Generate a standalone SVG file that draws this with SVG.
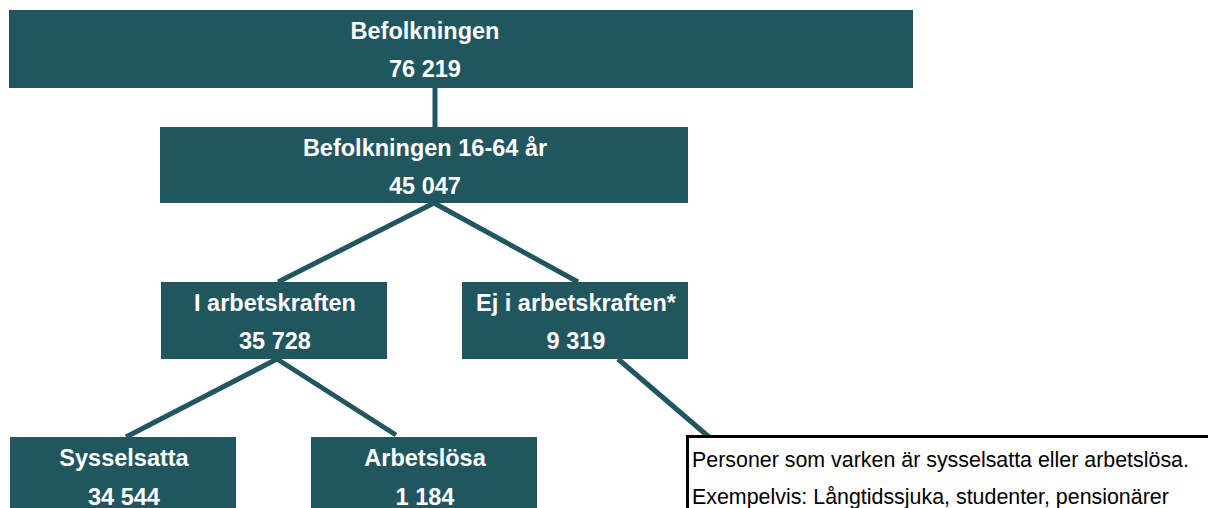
<svg xmlns="http://www.w3.org/2000/svg" width="1208" height="508" viewBox="0 0 1208 508">
<style>
.box{fill:#21565F}
.t{font-family:"Liberation Sans",Arial,sans-serif;font-weight:bold;font-size:23.5px;fill:#ffffff;text-anchor:middle}
.n{font-family:"Liberation Sans",Arial,sans-serif;font-size:21.4px;fill:#000000}
.c{stroke:#21565F;stroke-width:5;fill:none}
</style>
<rect width="1208" height="508" fill="#ffffff"/>
<g id="connectors">
<line class="c" x1="435" y1="87" x2="435" y2="128"/>
<line class="c" x1="434" y1="203" x2="278" y2="282"/>
<line class="c" x1="434" y1="203" x2="578" y2="282"/>
<line class="c" x1="277" y1="359" x2="126" y2="437"/>
<line class="c" x1="277" y1="359" x2="396" y2="435"/>
<line class="c" x1="618" y1="359" x2="709" y2="437"/>
</g>
<g id="befolkningen">
<rect class="box" x="9" y="10" width="904" height="78"/>
<text class="t" x="425" y="39">Befolkningen</text>
<text class="t" x="425" y="77">76 219</text>
</g>
<g id="befolkningen-16-64">
<rect class="box" x="160" y="127" width="528" height="76"/>
<text class="t" x="425" y="156">Befolkningen 16-64 år</text>
<text class="t" x="425" y="194">45 047</text>
</g>
<g id="i-arbetskraften">
<rect class="box" x="161" y="282" width="226" height="77"/>
<text class="t" x="275" y="311">I arbetskraften</text>
<text class="t" x="275" y="349">35 728</text>
</g>
<g id="ej-i-arbetskraften">
<rect class="box" x="462" y="282" width="226" height="77"/>
<text class="t" x="576" y="311">Ej i arbetskraften*</text>
<text class="t" x="576" y="349">9 319</text>
</g>
<g id="sysselsatta">
<rect class="box" x="10" y="437" width="226" height="80"/>
<text class="t" x="124" y="466">Sysselsatta</text>
<text class="t" x="124" y="505">34 544</text>
</g>
<g id="arbetslosa">
<rect class="box" x="311" y="437" width="226" height="80"/>
<text class="t" x="425" y="466">Arbetslösa</text>
<text class="t" x="425" y="505">1 184</text>
</g>
<g id="note">
<rect x="687.5" y="436.5" width="540" height="90" fill="#ffffff" stroke="#000000" stroke-width="3"/>
<text class="n" x="692" y="467">Personer som varken är sysselsatta eller arbetslösa.</text>
<text class="n" x="692" y="504">Exempelvis: Långtidssjuka, studenter, pensionärer</text>
</g>
</svg>
